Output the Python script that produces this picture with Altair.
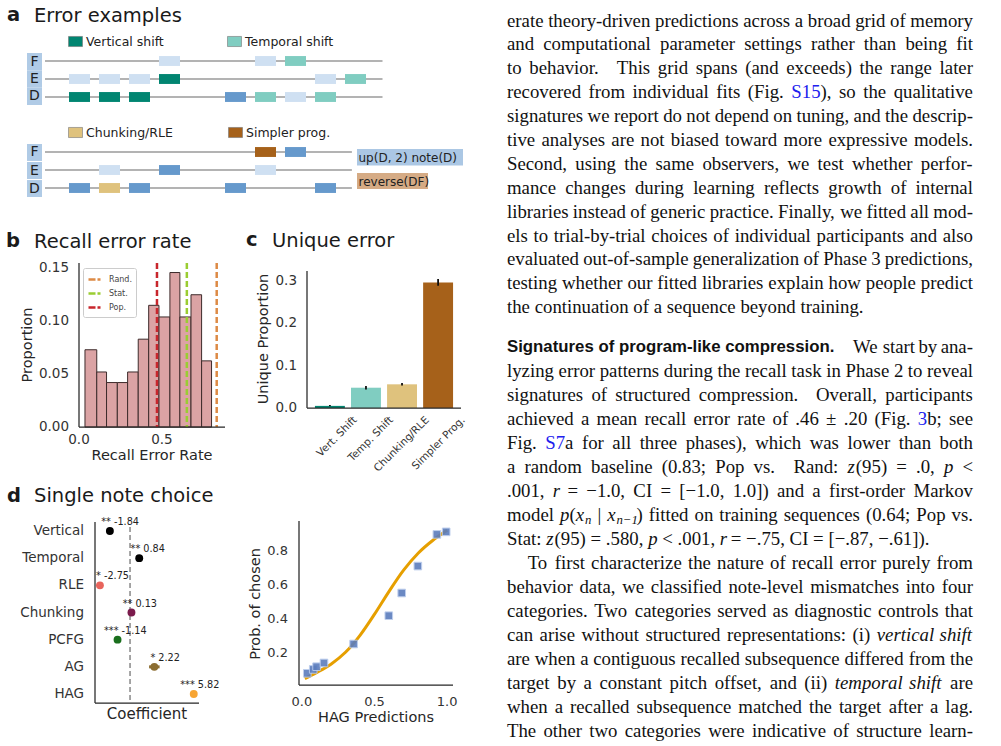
import re
import altair as alt
import pandas as pd

W, H = 1001, 746
SANS = "DejaVu Sans"
SERIF = "Liberation Serif"
AXC = "#262626"
LBC = "#333333"
TITLE_FS = 19.5
AXT_FS = 14.5

# ---------------- panel a: error examples ----------------
lane_rows = ["F", "E", "D"]
note_types = ["target", "other", "Vertical shift", "Temporal shift", "Chunking/RLE", "Simpler prog."]
note_colors = ["#cfe0f2", "#6699cc", "#018571", "#80cdc1", "#dfc27d", "#a6611a"]

g1_row = ["F", "F", "F", "E", "E", "E", "E", "E", "E", "D", "D", "D", "D", "D", "D", "D"]
g1_onset = [3, 6.2, 7.2, 0, 1, 2, 3, 8.2, 9.2, 0, 1, 2, 5.2, 6.2, 7.2, 8.2]
g1_type = ["target", "target", "Temporal shift", "target", "target", "target", "Vertical shift",
           "target", "Temporal shift", "Vertical shift", "Vertical shift", "Vertical shift",
           "other", "Temporal shift", "target", "Temporal shift"]

g2_row = ["F", "F", "E", "E", "E", "D", "D", "D", "D", "D"]
g2_onset = [6.2, 7.2, 1, 3, 6.2, 0, 1, 2, 5.2, 8.2]
g2_type = ["Simpler prog.", "other", "target", "other", "target", "other", "Chunking/RLE",
           "other", "other", "other"]

staff_start = [-0.8, -0.8]
staff_end = [10.45, 9.43]
code_labels = ["up(D, 2) note(D)", "reverse(DF)"]

# ---------------- panel b: recall error rate ----------------
bin_edges = [0.036, 0.107, 0.166, 0.231, 0.293, 0.357, 0.420, 0.482, 0.548, 0.608, 0.675, 0.739, 0.799]
bin_prop = [0.073, 0.052, 0.042, 0.042, 0.052, 0.083, 0.115, 0.104, 0.146, 0.104, 0.125, 0.0625]
ref_names = ["Rand.", "Stat.", "Pop."]
ref_values = [0.83, 0.65, 0.47]
ref_colors = ["#dd8a45", "#9acd32", "#c8262c"]
b_xticks = [0.0, 0.5]
b_yticks = [0.0, 0.05, 0.10, 0.15]

# ---------------- panel c: unique error ----------------
uc_cats = ["Vert. Shift", "Temp. Shift", "Chunking/RLE", "Simpler Prog."]
uc_vals = [0.005, 0.048, 0.056, 0.297]
uc_lo = [0.004, 0.044, 0.053, 0.289]
uc_hi = [0.007, 0.052, 0.059, 0.305]
uc_colors = ["#018571", "#80cdc1", "#dfc27d", "#a6611a"]
c_yticks = [0.0, 0.1, 0.2, 0.3]

# ---------------- panel d: single note choice ----------------
d_cats = ["Vertical", "Temporal", "RLE", "Chunking", "PCFG", "AG", "HAG"]
d_coef = [-1.84, 0.84, -2.75, 0.13, -1.14, 2.22, 5.82]
d_stars = ["**", "**", "*", "**", "***", "*", "***"]
d_ci_lo = [-1.95, 0.74, -2.85, 0.03, -1.24, 1.74, 5.72]
d_ci_hi = [-1.73, 0.94, -2.65, 0.23, -1.04, 2.70, 5.92]
d_colors = ["#000000", "#000000", "#e8645c", "#7b1b4c", "#1a6f1d", "#8c6d31", "#f7a533"]

# ---------------- panel e: HAG predictions ----------------
hag_x = [0.037, 0.078, 0.101, 0.152, 0.356, 0.598, 0.687, 0.798, 0.929, 0.993]
hag_y = [0.081, 0.104, 0.120, 0.142, 0.254, 0.421, 0.555, 0.714, 0.901, 0.916]
curve_x = [0.02, 0.1, 0.2, 0.3, 0.4, 0.5, 0.6, 0.7, 0.8, 0.9, 1.0]
curve_y = [0.05, 0.085, 0.135, 0.205, 0.305, 0.43, 0.565, 0.69, 0.79, 0.865, 0.925]
e_xticks = [0.0, 0.5, 1.0]
e_yticks = [0.2, 0.4, 0.6, 0.8]

# ---------------- body text (markup: @link@  _italic_  {subscript}  #heading#) ----------------
block1_lines = [
    "erate theory-driven predictions across a broad grid of memory",
    "and computational parameter settings rather than being fit",
    "to behavior.\u2002 This grid spans (and exceeds) the range later",
    "recovered from individual fits (Fig. @S15@), so the qualitative",
    "signatures we report do not depend on tuning, and the descrip-",
    "tive analyses are not biased toward more expressive models.",
    "Second, using the same observers, we test whether perfor-",
    "mance changes during learning reflects growth of internal",
    "libraries instead of generic practice. Finally, we fitted all mod-",
    "els to trial-by-trial choices of individual participants and also",
    "evaluated out-of-sample generalization of Phase 3 predictions,",
    "testing whether our fitted libraries explain how people predict",
    "the continuation of a sequence beyond training.",
]
block2_lines = [
    "#Signatures of program-like compression.# We start by ana-",
    "lyzing error patterns during the recall task in Phase 2 to reveal",
    "signatures of structured compression.\u2002 Overall, participants",
    "achieved a mean recall error rate of .46 \u00b1 .20 (Fig. @3@b; see",
    "Fig. @S7@a for all three phases), which was lower than both",
    "a random baseline (0.83; Pop vs.\u2002 Rand: _z_(95) = .0, _p_ <",
    ".001, _r_ = \u22121.0, CI = [\u22121.0, 1.0]) and a first-order Markov",
    "model _p_(_x_{n} | _x_{n\u22121}) fitted on training sequences (0.64; Pop vs.",
    "Stat: _z_(95) = .580, _p_ < .001, _r_ = \u2212.75, CI = [\u2212.87, \u2212.61]).",
    "To first characterize the nature of recall error purely from",
    "behavior data, we classified note-level mismatches into four",
    "categories. Two categories served as diagnostic controls that",
    "can arise without structured representations: (i) _vertical_ _shift_",
    "are when a contiguous recalled subsequence differed from the",
    "target by a constant pitch offset, and (ii) _temporal_ _shift_ are",
    "when a recalled subsequence matched the target after a lag.",
    "The other two categories were indicative of structure learn-",
]
block1_last, block1_indent = {12}, set()
block2_last, block2_indent = {8}, {9}

# ---- font metrics (Times-Roman / Helvetica-Bold AFM widths, per 1000 em) for justification ----
_tc = " !\"#$%&'()*+,-./0123456789:;<=>?@ABCDEFGHIJKLMNOPQRSTUVWXYZ[\\]^_`abcdefghijklmnopqrstuvwxyz{|}~"
_tw = [250, 333, 408, 500, 500, 833, 778, 180, 333, 333, 500, 564, 250, 333, 250, 278] + [500] * 10 + \
      [278, 278, 564, 564, 564, 444, 921,
       722, 667, 667, 722, 611, 556, 722, 722, 333, 389, 722, 611, 889, 722, 722, 556, 722, 667, 556,
       611, 722, 722, 944, 722, 722, 611,
       333, 278, 333, 469, 500, 333,
       444, 500, 444, 500, 444, 333, 500, 500, 278, 278, 500, 278, 778, 500, 500, 500, 500, 333, 389,
       278, 500, 500, 722, 500, 500, 444,
       480, 200, 480, 541]
TIMES_W = dict(zip(_tc, _tw))
TIMES_W.update({"\u00b1": 564, "\u2212": 564, "\u2009": 200, "\u200a": 100, "\u2002": 500, "\u2003": 1000})
HELVB_W = {"S": 667, "i": 278, "g": 611, "n": 611, "a": 556, "t": 333, "u": 611, "r": 389, "e": 556,
           "s": 556, " ": 278, "o": 611, "f": 333, "p": 611, "m": 889, "-": 333, "l": 278, "k": 556,
           "c": 556, ".": 278}
FS = 18.8          # body font size
HEAD_FS = 16.8     # bold run-in heading
HEAD_QUAD = 15     # extra space after the run-in heading
COL_W = 466        # text column width
SUB_K = 0.68

STYLE_MARK = {
    "body": dict(font=SERIF, fontSize=FS, color="#111111"),
    "ital": dict(font=SERIF, fontSize=FS, color="#111111", fontStyle="italic"),
    "link": dict(font=SERIF, fontSize=FS, color="#2020ee"),
    "sub": dict(font=SERIF, fontSize=FS * SUB_K, color="#111111", fontStyle="italic", dy=5),
    "head": dict(font="Liberation Sans", fontSize=HEAD_FS, color="#111111", fontWeight="bold"),
}


def run_w(t, style):
    if style == "head":
        return sum(HELVB_W.get(ch, 600) for ch in t) * HEAD_FS / 1000
    size = FS * (SUB_K if style == "sub" else 1)
    return sum(TIMES_W.get(ch, 500) for ch in t) * size / 1000


def parse_word(w):
    runs = []
    for tok in re.findall(r"@[^@]*@|_[^_]*_|\{[^}]*\}|[^@_{]+", w):
        if tok.startswith("@"):
            runs.append((tok[1:-1], "link"))
        elif tok.startswith("_"):
            runs.append((tok[1:-1], "ital"))
        elif tok.startswith("{"):
            runs.append((tok[1:-1], "sub"))
        else:
            runs.append((tok, "body"))
    return runs


def layout_block(lines, last_set, indent_set):
    rows = []
    for i, line in enumerate(lines):
        words, extra = [], []
        rest = line
        if line.startswith("#"):
            k = line.index("#", 1)
            words.append([(line[1:k], "head")])
            extra.append(HEAD_QUAD)
            rest = line[k + 1:]
        for w in rest.split(" "):
            if w:
                words.append(parse_word(w))
                extra.append(0)
        widths = [sum(run_w(t, s) for t, s in w) + e for w, e in zip(words, extra)]
        indent = 1.1 * FS if i in indent_set else 0
        if i in last_set or len(words) < 2:
            gap = 0.25 * FS
        else:
            gap = (COL_W - indent - sum(widths)) / (len(words) - 1)
        x = indent
        for w, wd in zip(words, widths):
            xx = x
            for t, s in w:
                rows.append({"line": i, "x": xx, "t": t, "style": s})
                xx += run_w(t, s)
            x += wd + gap
    return pd.DataFrame(rows)


def text_block(lines, last_set, indent_set, y_range):
    df = layout_block(lines, last_set, indent_set)
    xs = alt.Scale(domain=[0, COL_W], range=[507, 507 + COL_W], nice=False, zero=False)
    ys = alt.Scale(domain=[0, len(lines) - 1], range=y_range, nice=False, zero=False)
    sub = []
    for style, g in df.groupby("style"):
        sub.append(alt.Chart(g.reset_index(drop=True)).mark_text(
            align="left", baseline="middle", **STYLE_MARK[style]).encode(
            x=alt.X("x:Q", scale=xs, axis=None), y=alt.Y("line:Q", scale=ys, axis=None), text="t:N"))
    return alt.layer(*sub)


def label(s, x, y, size, weight="normal", color="#1a1a1a", align="left", font=SANS, angle=0):
    return alt.Chart(pd.DataFrame({"t": [s]})).mark_text(
        font=font, fontSize=size, fontWeight=weight, color=color, align=align, baseline="middle",
        angle=angle
    ).encode(x=alt.value(x), y=alt.value(y), text="t:N")


# ---- hand-built axes drawn through the panel scales ----
def y_domain_line(scale, d0, d1, xpix):
    return alt.Chart(pd.DataFrame({"a": [d0], "b": [d1]})).mark_rule(color=AXC, strokeWidth=1.25).encode(
        x=alt.value(xpix), y=alt.Y("a:Q", scale=scale, axis=None), y2="b:Q")


def x_domain_line(scale, d0, d1, ypix):
    return alt.Chart(pd.DataFrame({"a": [d0], "b": [d1]})).mark_rule(color=AXC, strokeWidth=1.25).encode(
        y=alt.value(ypix), x=alt.X("a:Q", scale=scale, axis=None), x2="b:Q")


def y_tick_labels(scale, ticks, fmt, xpix, size=13.5):
    df = pd.DataFrame({"v": ticks, "lab": [format(v, fmt) for v in ticks]})
    return alt.Chart(df).mark_text(font=SANS, fontSize=size, color=LBC, align="right",
                                   baseline="middle").encode(
        x=alt.value(xpix), y=alt.Y("v:Q", scale=scale, axis=None), text="lab:N")


def x_tick_labels(scale, ticks, fmt, ypix, size=13.5):
    df = pd.DataFrame({"v": ticks, "lab": [format(v, fmt) for v in ticks]})
    return alt.Chart(df).mark_text(font=SANS, fontSize=size, color=LBC, align="center",
                                   baseline="middle").encode(
        y=alt.value(ypix), x=alt.X("v:Q", scale=scale, axis=None), text="lab:N")


layers = []

# ---------- panel a ----------
def note_group(rows_l, onset_l, type_l, end, y_range, legend_vals, legend_y, col_pad):
    notes = pd.DataFrame({"row": rows_l, "onset": onset_l, "type": type_l})
    staff = pd.DataFrame({"row": lane_rows, "start": [staff_start[0]] * 3, "stop": [end] * 3})
    xs = alt.Scale(domain=[-0.8, 10.5], range=[45, 384], nice=False, zero=False)
    ys = alt.Scale(type="band", domain=lane_rows, range=y_range, paddingInner=0.45, paddingOuter=0.225)
    staff_layer = alt.Chart(staff).mark_rule(color="#9a9a9a", strokeWidth=1.6).encode(
        x=alt.X("start:Q", scale=xs, axis=None), x2="stop:Q",
        y=alt.Y("row:N", scale=ys, axis=None))
    note_layer = alt.Chart(notes).transform_calculate(stop="datum.onset + 0.7").mark_rect().encode(
        x=alt.X("onset:Q", scale=xs, axis=None), x2="stop:Q",
        y=alt.Y("row:N", scale=ys, axis=None),
        color=alt.Color("type:N", scale=alt.Scale(domain=note_types, range=note_colors),
                        legend=alt.Legend(values=legend_vals, orient="none", legendX=68, legendY=legend_y,
                                          direction="horizontal", title=None, labelFont=SANS,
                                          labelFontSize=12.5, labelColor="#222222",
                                          symbolType="M-1,-0.72H1V0.72H-1Z", symbolSize=196,
                                          symbolStrokeColor="#777777", symbolStrokeWidth=0.6,
                                          symbolOpacity=1, labelOffset=3, padding=0,
                                          columnPadding=col_pad)))
    return alt.layer(staff_layer, note_layer)


def lane_group(y_range, pad):
    df = pd.DataFrame({"row": lane_rows})
    ys = alt.Scale(type="band", domain=lane_rows, range=y_range, paddingInner=pad, paddingOuter=0)
    box = alt.Chart(df).mark_rect(color="#b0cbe6").encode(
        x=alt.value(27), x2=alt.value(42), y=alt.Y("row:N", scale=ys, axis=None))
    txt = alt.Chart(df).mark_text(font=SANS, fontSize=14, color="#222222", align="center",
                                  baseline="middle").encode(
        x=alt.value(34.5), y=alt.Y("row:N", scale=ys, axis=None), text="row:N")
    return alt.layer(box, txt)


def code_box(s, x0, x1, y0, y1, fill):
    df = pd.DataFrame({"t": [s]})
    box = alt.Chart(df).mark_rect(color=fill).encode(
        x=alt.value(x0), x2=alt.value(x1), y=alt.value(y0), y2=alt.value(y1))
    txt = alt.Chart(df).mark_text(font=SANS, fontSize=12, color="#222222", align="left",
                                  baseline="middle").encode(
        x=alt.value(x0 + 1.5), y=alt.value((y0 + y1) / 2 + 0.5), text="t:N")
    return alt.layer(box, txt)


layers.append(note_group(g1_row, g1_onset, g1_type, staff_end[0], [52, 106],
                         ["Vertical shift", "Temporal shift"], 34, 62))
layers.append(note_group(g2_row, g2_onset, g2_type, staff_end[1], [143, 197],
                         ["Chunking/RLE", "Simpler prog."], 125, 54))
layers.append(lane_group([53, 105], 0.0))
layers.append(lane_group([144, 197], 0.06))
layers.append(code_box(code_labels[0], 357, 463, 149, 165.5, "#abc7e4"))
layers.append(code_box(code_labels[1], 357, 428, 173, 189, "#d5ab85"))

# ---------- panel b ----------
bx = alt.Scale(domain=[0, 0.88], range=[79, 225], nice=False, zero=False)
by = alt.Scale(domain=[0, 0.155], range=[427, 263], nice=False, zero=False)
hist_df = pd.DataFrame({"lo": bin_edges[:-1], "hi": bin_edges[1:], "p": bin_prop})
hist = alt.Chart(hist_df).mark_rect(fill="#dba3a4", stroke="#3d2b2b", strokeWidth=1).encode(
    x=alt.X("lo:Q", scale=bx, axis=None), x2="hi:Q",
    y=alt.Y("p:Q", scale=by, axis=None), y2=alt.datum(0))
refs_df = pd.DataFrame({"name": ref_names, "v": ref_values})
refs = alt.Chart(refs_df).mark_rule(strokeDash=[6, 3], strokeWidth=2.5).encode(
    x=alt.X("v:Q", scale=bx, axis=None), y=alt.value(263), y2=alt.value(427),
    color=alt.Color("name:N", scale=alt.Scale(domain=ref_names, range=ref_colors),
                    legend=alt.Legend(orient="none", legendX=83, legendY=268, title=None,
                                      symbolType="stroke", symbolStrokeWidth=2.5, symbolDash=[7, 2],
                                      symbolSize=144, labelFontSize=8, labelFont=SANS,
                                      labelColor="#444444", fillColor="white", strokeColor="#cccccc",
                                      padding=4, rowPadding=1, cornerRadius=2, labelOffset=7)))
layers.append(alt.layer(
    hist, refs,
    y_domain_line(by, 0, 0.155, 79), x_domain_line(bx, 0, 0.88, 427),
    y_tick_labels(by, b_yticks, ".2f", 69), x_tick_labels(bx, b_xticks, ".1f", 440)))
layers.append(label("Proportion", 27.5, 345, AXT_FS, align="center", angle=270, color=AXC))
layers.append(label("Recall Error Rate", 152, 456, AXT_FS, align="center", color=AXC))

# ---------- panel c ----------
cx = alt.Scale(type="band", domain=uc_cats, range=[307, 461], paddingInner=0.17, paddingOuter=0.22)
cy = alt.Scale(domain=[0, 0.324], range=[408, 271], nice=False, zero=False)
uc_df = pd.DataFrame({"cat": uc_cats, "v": uc_vals, "lo": uc_lo, "hi": uc_hi})
bars = alt.Chart(uc_df).mark_bar().encode(
    x=alt.X("cat:N", scale=cx, sort=uc_cats, axis=None),
    y=alt.Y("v:Q", scale=cy, axis=None),
    color=alt.Color("cat:N", scale=alt.Scale(domain=uc_cats, range=uc_colors), legend=None))
errs = alt.Chart(uc_df).mark_rule(color="#111111", strokeWidth=1.8).encode(
    x=alt.X("cat:N", scale=cx, sort=uc_cats, axis=None),
    y=alt.Y("lo:Q", scale=cy, axis=None), y2="hi:Q")
c_xlab = alt.Chart(uc_df).mark_text(font=SANS, fontSize=10.5, color=LBC, align="right", baseline="top",
                                    angle=315, dx=15.5, dy=15.5).encode(
    x=alt.X("cat:N", scale=cx, sort=uc_cats, axis=None), y=alt.value(415), text="cat:N")
c_xdom = alt.Chart(pd.DataFrame({"a": [0]})).mark_rule(color=AXC, strokeWidth=1.25).encode(
    x=alt.value(307), x2=alt.value(461), y=alt.value(408))
layers.append(alt.layer(bars, errs, c_xlab, c_xdom,
                        y_domain_line(cy, 0, 0.324, 307), y_tick_labels(cy, c_yticks, ".1f", 297)))
layers.append(label("Unique Proportion", 264, 339, AXT_FS, align="center", angle=270, color=AXC))

# ---------- panel d ----------
dx_s = alt.Scale(domain=[-3.2, 6.3], range=[95, 199], nice=False, zero=False)
dy_s = alt.Scale(type="point", domain=d_cats, range=[522, 703], padding=0.33)
d_df = pd.DataFrame({"cat": d_cats, "coef": d_coef, "stars": d_stars, "lo": d_ci_lo, "hi": d_ci_hi,
                     "lab": [f"{v:.2f}" for v in d_coef]})
zero = alt.Chart(pd.DataFrame({"z": [0]})).mark_rule(color="#888888", strokeDash=[5, 3],
                                                       strokeWidth=1.5).encode(
    x=alt.X("z:Q", scale=dx_s, axis=None), y=alt.value(527), y2=alt.value(703))
dcolor = alt.Color("cat:N", scale=alt.Scale(domain=d_cats, range=d_colors), legend=None)
ci = alt.Chart(d_df).mark_rule(strokeWidth=3).encode(
    x=alt.X("lo:Q", scale=dx_s, axis=None), x2="hi:Q",
    y=alt.Y("cat:N", scale=dy_s, sort=d_cats, axis=None), color=dcolor)
pts = alt.Chart(d_df).mark_circle(size=62, opacity=1).encode(
    x=alt.X("coef:Q", scale=dx_s, axis=None),
    y=alt.Y("cat:N", scale=dy_s, sort=d_cats, axis=None),
    color=dcolor)
st = alt.Chart(d_df).mark_text(font=SANS, fontSize=9.7, color="#222222", align="right",
                               baseline="middle", dx=1, dy=-9).encode(
    x=alt.X("coef:Q", scale=dx_s, axis=None), y=alt.Y("cat:N", scale=dy_s, sort=d_cats, axis=None),
    text="stars:N")
vl = alt.Chart(d_df).mark_text(font=SANS, fontSize=9.7, color="#222222", align="left",
                               baseline="middle", dx=4, dy=-9).encode(
    x=alt.X("coef:Q", scale=dx_s, axis=None), y=alt.Y("cat:N", scale=dy_s, sort=d_cats, axis=None),
    text="lab:N")
d_ylab = alt.Chart(d_df).mark_text(font=SANS, fontSize=13.5, color=LBC, align="right",
                                   baseline="middle").encode(
    x=alt.value(84), y=alt.Y("cat:N", scale=dy_s, sort=d_cats, axis=None), text="cat:N")
d_ydom = alt.Chart(pd.DataFrame({"a": [0]})).mark_rule(color=AXC, strokeWidth=1.25).encode(
    x=alt.value(95), y=alt.value(522), y2=alt.value(703))
layers.append(alt.layer(zero, ci, pts, st, vl, d_ylab, d_ydom, x_domain_line(dx_s, -3.2, 6.3, 703)))
layers.append(label("Coefficient", 147, 714, 15, align="center", color=AXC))

# ---------- panel e ----------
ex = alt.Scale(domain=[-0.02, 1.04], range=[299, 453], nice=False, zero=False)
ey = alt.Scale(domain=[0.012, 0.98], range=[685, 521], nice=False, zero=False)
curve = alt.Chart(pd.DataFrame({"x": curve_x, "y": curve_y})).mark_line(
    color="#e69f00", strokeWidth=3, interpolate="monotone").encode(
    x=alt.X("x:Q", scale=ex, axis=None), y=alt.Y("y:Q", scale=ey, axis=None))
sq = alt.Chart(pd.DataFrame({"x": hag_x, "y": hag_y})).mark_square(
    size=58, color="#5b7dbd", opacity=0.9, stroke="#b8caec", strokeWidth=1).encode(
    x=alt.X("x:Q", scale=ex, axis=None), y=alt.Y("y:Q", scale=ey, axis=None))
layers.append(alt.layer(curve, sq,
                        y_domain_line(ey, 0.012, 0.98, 299), x_domain_line(ex, -0.02, 1.04, 685),
                        y_tick_labels(ey, e_yticks, ".1f", 288, 13),
                        x_tick_labels(ex, e_xticks, ".1f", 702, 13)))
layers.append(label("Prob. of chosen", 256, 604, AXT_FS, align="center", angle=270, color=AXC))
layers.append(label("HAG Predictions", 376, 718, AXT_FS, align="center", color=AXC))

# ---------- body text ----------
layers.append(text_block(block1_lines, block1_last, block1_indent, [20.5, 307.2]))
layers.append(text_block(block2_lines, block2_last, block2_indent, [347.2, 730.5]))

# ---------- panel titles ----------
layers.append(label("a", 7, 15, TITLE_FS, weight="bold"))
layers.append(label("Error examples", 34, 16, TITLE_FS))
layers.append(label("b", 6, 241, TITLE_FS, weight="bold"))
layers.append(label("Recall error rate", 34, 242, TITLE_FS))
layers.append(label("c", 246, 240, TITLE_FS, weight="bold"))
layers.append(label("Unique error", 272, 240.5, TITLE_FS))
layers.append(label("d", 7, 496, TITLE_FS, weight="bold"))
layers.append(label("Single note choice", 34, 496, TITLE_FS))

chart = alt.layer(*layers).resolve_scale(
    x="independent", y="independent", color="independent"
).resolve_axis(x="independent", y="independent").resolve_legend(color="independent").properties(
    width=W, height=H, autosize=alt.AutoSizeParams(type="none"), padding=0, background="white"
).configure_view(strokeOpacity=0)

chart.save("out.html", embed_options={"renderer": "svg", "actions": False})
